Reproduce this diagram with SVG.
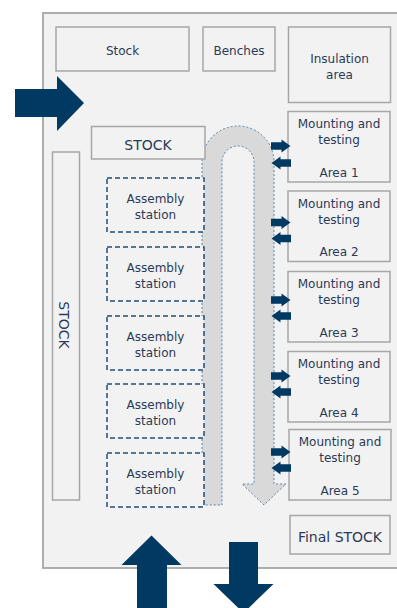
<svg xmlns="http://www.w3.org/2000/svg" width="397" height="608" viewBox="0 0 397 608">
<style>
.box{fill:#f2f2f2;stroke:#a6a6a6;stroke-width:1.5}
.asm{fill:#f2f2f2;stroke:#1f4e79;stroke-width:1.5;stroke-dasharray:5 3}
.t{font-family:"DejaVu Sans",sans-serif;font-size:12px;fill:#2b3a57;text-anchor:middle}
.tb{font-family:"DejaVu Sans",sans-serif;font-size:14px;fill:#2b3a57;text-anchor:middle}
.arr{fill:#003a63}
</style>
<defs>
<path id="ar" d="M0,-3.8 H10.5 V-6.5 L19.5,0 L10.5,6.5 V3.8 H0 Z"/>
<path id="al" d="M19.5,-3.8 H9 V-6.5 L0,0 L9,6.5 V3.8 H19.5 Z"/>
</defs>
<rect width="397" height="608" fill="#ffffff"/>
<rect id="hall" x="43" y="13" width="360" height="555" fill="#f2f2f2" stroke="#a6a6a6" stroke-width="1.8"/>
<g id="conveyor">
<path d="M202,505 V162 A36,36 0 0 1 274,162 V484 H286 L264,505 L242,484 H254 V162 A16,16 0 0 0 222,162 V505 Z" fill="#d9d9d9" stroke="#5b84a8" stroke-width="1" stroke-dasharray="2 2"/>
</g>
<g id="stock-top"><rect class="box" x="56" y="27" width="133" height="44"/><text class="t" x="122.5" y="55">Stock</text></g>
<g id="benches"><rect class="box" x="203" y="27" width="72" height="44"/><text class="t" x="239" y="55">Benches</text></g>
<g id="insulation"><rect class="box" x="288.5" y="27" width="102" height="75.5"/><text class="t" x="339.5" y="62.5">Insulation</text><text class="t" x="339.5" y="78.5">area</text></g>
<g id="stock-mid"><rect class="box" x="91.5" y="126.5" width="113.5" height="32.5"/><text class="tb" x="148" y="150">STOCK</text></g>
<g id="stock-left"><rect class="box" x="52.5" y="152" width="27" height="348"/><text class="tb" transform="translate(58.5,325) rotate(90)">STOCK</text></g>
<g id="asm1"><rect class="asm" x="107" y="178" width="97" height="54"/><text class="t" x="155.5" y="203">Assembly</text><text class="t" x="155.5" y="219">station</text></g>
<g id="asm2"><rect class="asm" x="107" y="247" width="97" height="54"/><text class="t" x="155.5" y="272">Assembly</text><text class="t" x="155.5" y="288">station</text></g>
<g id="asm3"><rect class="asm" x="107" y="316" width="97" height="54"/><text class="t" x="155.5" y="341">Assembly</text><text class="t" x="155.5" y="357">station</text></g>
<g id="asm4"><rect class="asm" x="107" y="384" width="97" height="54"/><text class="t" x="155.5" y="409">Assembly</text><text class="t" x="155.5" y="425">station</text></g>
<g id="asm5"><rect class="asm" x="107" y="453" width="97" height="54"/><text class="t" x="155.5" y="478">Assembly</text><text class="t" x="155.5" y="494">station</text></g>
<g id="area1"><rect class="box" x="288" y="111.5" width="102" height="70.5"/><text class="t" x="339" y="128">Mounting and</text><text class="t" x="339" y="144">testing</text><text class="t" x="339" y="176.5">Area 1</text></g>
<g id="area2"><rect class="box" x="288" y="191" width="102" height="70.5"/><text class="t" x="339" y="207.5">Mounting and</text><text class="t" x="339" y="223.5">testing</text><text class="t" x="339" y="256">Area 2</text></g>
<g id="area3"><rect class="box" x="288" y="271.5" width="102" height="70.5"/><text class="t" x="339" y="288">Mounting and</text><text class="t" x="339" y="304">testing</text><text class="t" x="339" y="336.5">Area 3</text></g>
<g id="area4"><rect class="box" x="288" y="351.5" width="102" height="70.5"/><text class="t" x="339" y="368">Mounting and</text><text class="t" x="339" y="384">testing</text><text class="t" x="339" y="416.5">Area 4</text></g>
<g id="area5"><rect class="box" x="289" y="429.5" width="102" height="70.5"/><text class="t" x="340" y="446">Mounting and</text><text class="t" x="340" y="462">testing</text><text class="t" x="340" y="494.5">Area 5</text></g>
<g id="final-stock"><rect class="box" x="290" y="515.5" width="100" height="38.5"/><text class="tb" x="340" y="541.5">Final STOCK</text></g>
<g id="connectors">
<polygon class="arr" points="15,89 57,89 57,76 84,103 57,131 57,117 15,117"/>
<polygon class="arr" points="151.5,535.5 181.5,565 167,565 167,610 137,610 137,565 121.5,565"/>
<polygon class="arr" points="229,542 258,542 258,584 273.5,584 243.5,613 213.5,584 229,584"/>
<use href="#ar" class="arr" x="271" y="146"/>
<use href="#al" class="arr" x="271.5" y="163"/>
<use href="#ar" class="arr" x="271" y="222.5"/>
<use href="#al" class="arr" x="271.5" y="238.5"/>
<use href="#ar" class="arr" x="271" y="300"/>
<use href="#al" class="arr" x="271.5" y="316"/>
<use href="#ar" class="arr" x="271" y="376"/>
<use href="#al" class="arr" x="271.5" y="392"/>
<use href="#ar" class="arr" x="271" y="452"/>
<use href="#al" class="arr" x="271.5" y="468"/>
</g>
</svg>
